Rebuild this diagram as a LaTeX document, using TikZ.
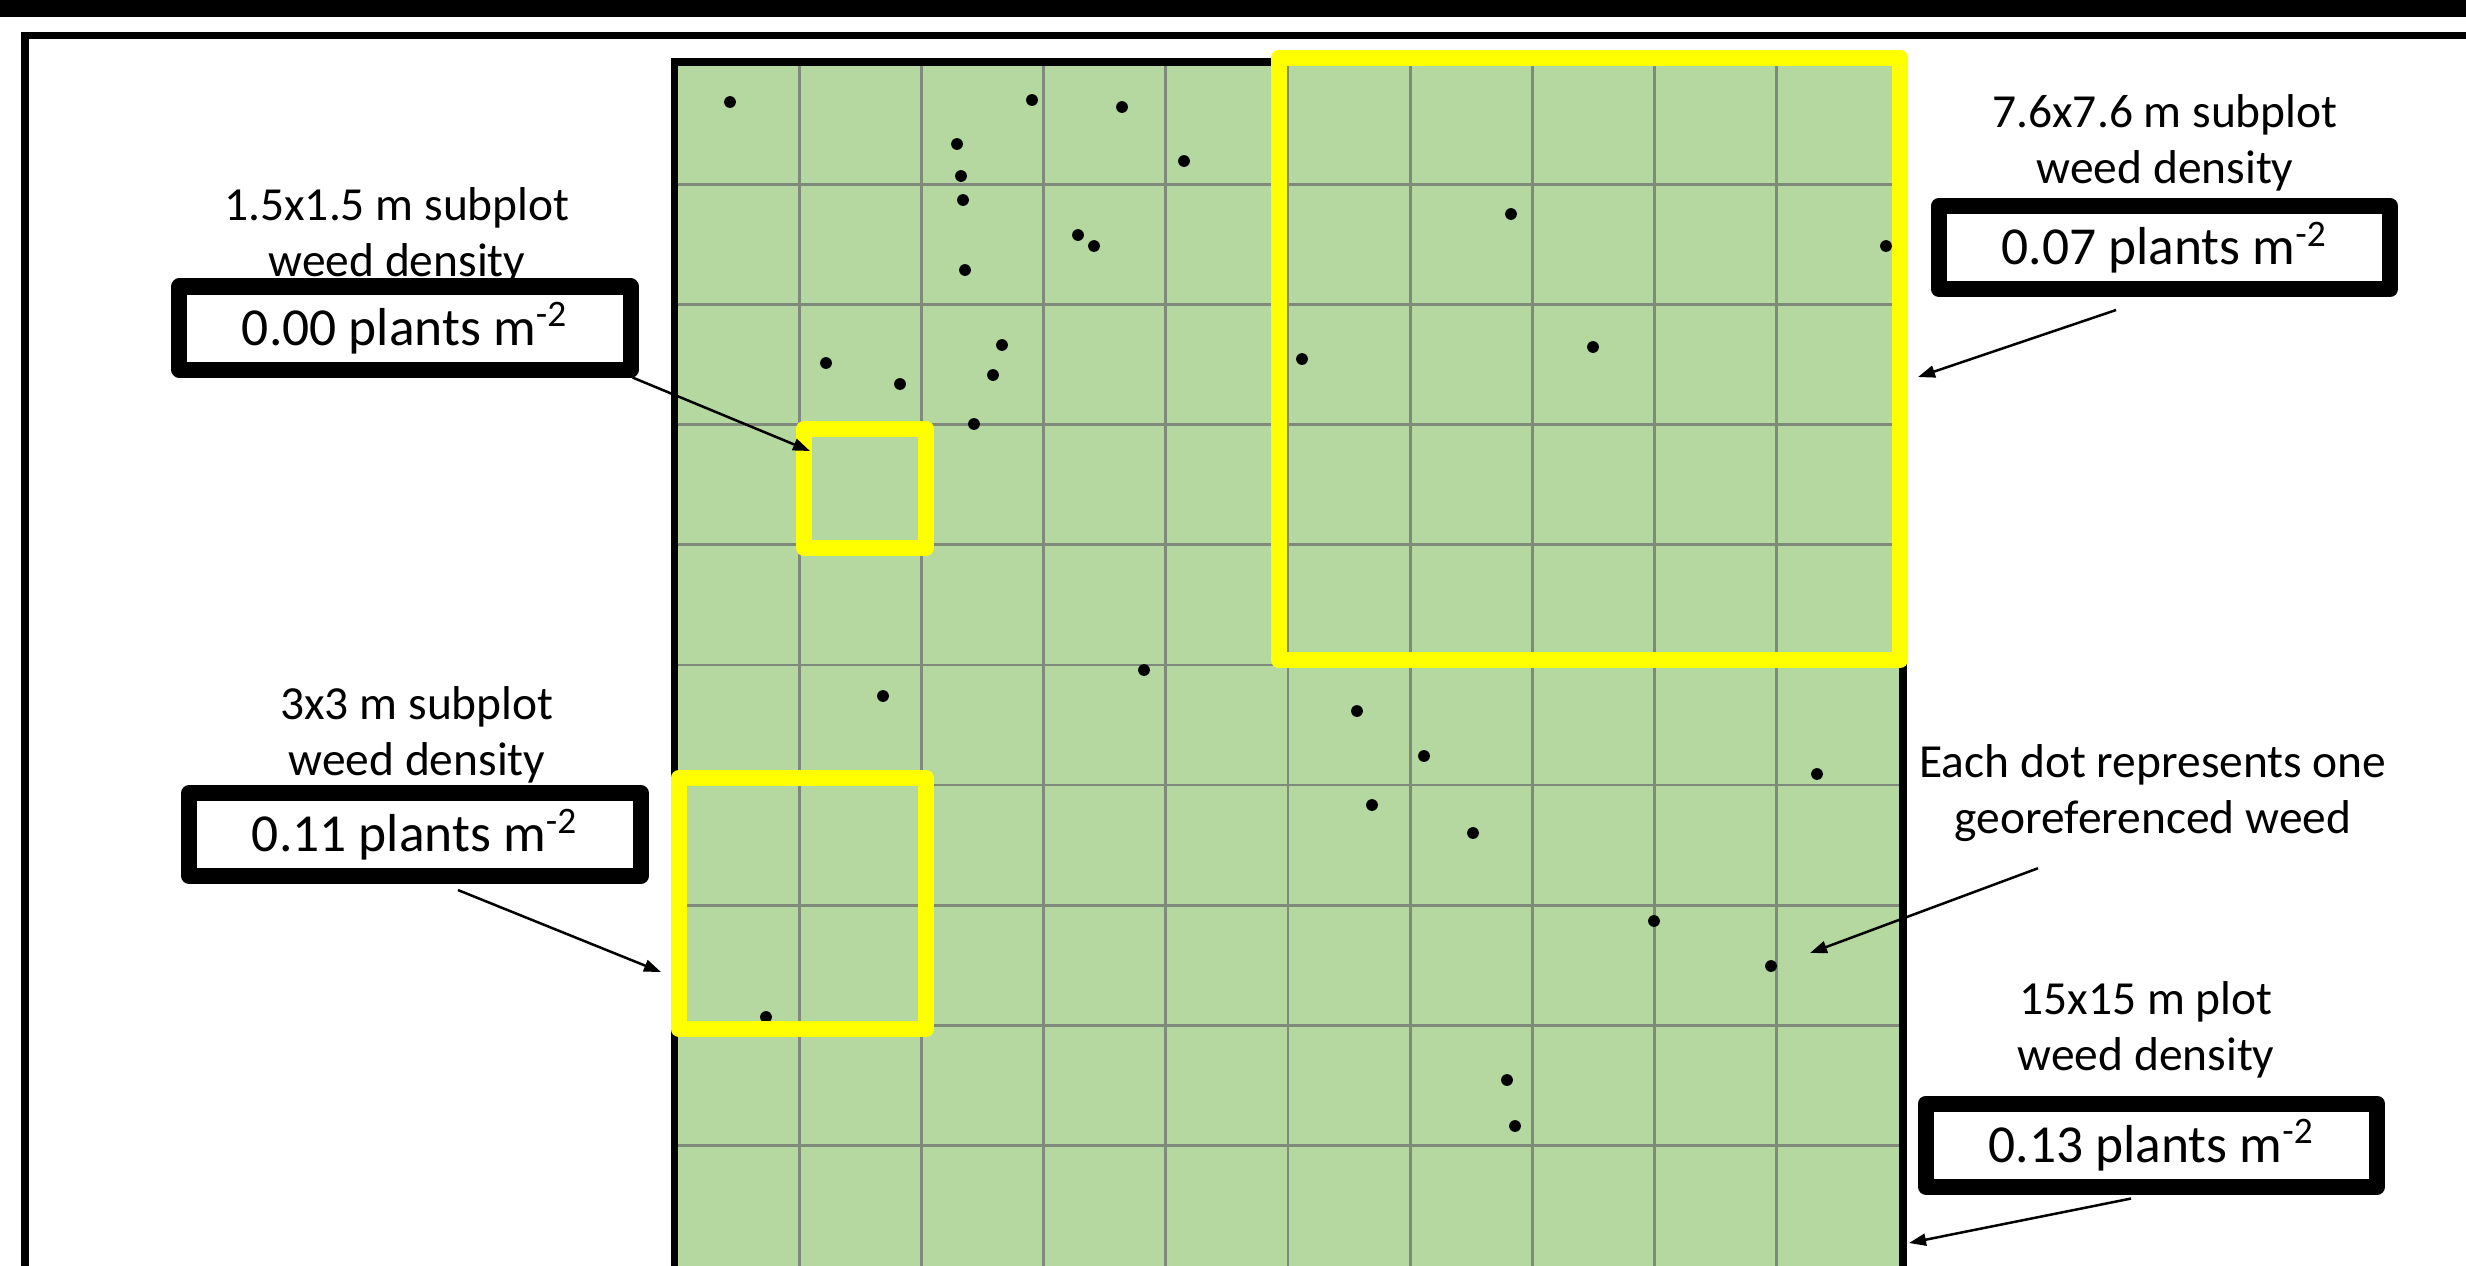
\documentclass[tikz,border=0pt]{standalone}
\usepackage{fontspec}
\setmainfont{Carlito}
\usetikzlibrary{arrows.meta,calc}
\definecolor{plotgreen}{RGB}{181,215,160}
\definecolor{gridgray}{RGB}{128,138,122}
\definecolor{hiyellow}{RGB}{255,255,0}
\begin{document}
\begin{tikzpicture}[x=0.01cm,y=-0.01cm,
  lbl/.style={align=center, font=\fontsize{13.5}{15.9}\selectfont, inner sep=0pt},
  valbox/.style={draw=black, line width=0.16cm, line join=round, minimum width=4.51cm,
    minimum height=0.83cm, inner sep=0pt, fill=white, font=\fontsize{15.2}{18}\selectfont},
  ptr/.style={-{Triangle[length=0.17cm,width=0.12cm]}, line width=0.025cm},
  wdot/.style={circle, fill=black, inner sep=0pt, minimum size=0.118cm},
  subbox/.style={draw=hiyellow, line width=0.16cm, line join=round},
  gridline/.style={draw=gridgray, line width=0.028cm},
  frameline/.style={draw=black, line width=0.075cm}
]
\useasboundingbox (0,0) rectangle (2466,1265);
\clip (0,0) rectangle (2466,1265);
\fill[white] (0,0) rectangle (2466,1265);
% top bar and outer frame
\fill[black] (0,0) rectangle (2466,17);
\draw[frameline] (25,1300) -- (25,35.5) -- (2500,35.5);
% plot
\fill[plotgreen] (677,64.4) rectangle (1899,1290);
\foreach \k in {1,...,9} {
  \draw[gridline] ({677+122.2*\k},64.4) -- ({677+122.2*\k},1290);
  \draw[gridline] (677,{64.4+120.1*\k}) -- (1899,{64.4+120.1*\k});
}
\draw[frameline] (674.5,62) rectangle (1903,1269.5);
% weeds
\foreach \px/\py [count=\i] in {730/102,1032/100,1122/107,957/144,1184/161,961/176,963/200,
  1078/235,1094/246,965/270,1002/345,826/363,900/384,993/375,974/424,1302/359,1511/214,
  1886/246,1593/347,1144/670,883/696,1357/711,1424/756,1817/774,1372/805,1473/833,
  1654/921,1771/966,766/1017,1507/1080,1515/1126}
  \node[wdot] (d\i) at (\px,\py) {};
% subplots
\draw[subbox] (804,428.5) rectangle (926,548);
\draw[subbox] (678.5,778) rectangle (926,1029);
\draw[subbox] (1278.5,57.5) rectangle (1900,660);
% labels
\node[lbl] (l1) at (397,236) {1.5x1.5 m subplot\\weed density};
\node[valbox] (v1) at (405,328) {0.00 plants m\textsuperscript{-2}};
\node[lbl] (l2) at (417,735) {3x3 m subplot\\weed density};
\node[valbox] (v2) at (415,834.5) {0.11 plants m\textsuperscript{-2}};
\node[lbl] (l3) at (2165,143) {7.6x7.6 m subplot\\weed density};
\node[valbox] (v3) at (2164.5,247.5) {0.07 plants m\textsuperscript{-2}};
\node[lbl] (l4) at (2153,793) {Each dot represents one\\georeferenced weed};
\node[lbl] (l5) at (2146,1030) {15x15 m plot\\weed density};
\node[valbox] (v4) at (2151.5,1145) {0.13 plants m\textsuperscript{-2}};
% arrow targets
\coordinate (t1) at (810,451);
\coordinate (t2) at (661,972);
\coordinate (t3) at (1918,377);
\coordinate (t4) at (1810,953);
\coordinate (t5) at (1909,1243);
\draw[ptr] ([shift={(-6,0)}]v1.south east) -- (t1);
\draw[ptr] ([shift={(43,6)}]v2.south) -- (t2);
\draw[ptr] ([shift={(-48.5,13)}]v3.south) -- (t3);
\draw[ptr] ([shift={(-115,26)}]l4.south) -- (t4);
\draw[ptr] ([shift={(-20.5,4)}]v4.south) -- (t5);
\end{tikzpicture}
\end{document}
